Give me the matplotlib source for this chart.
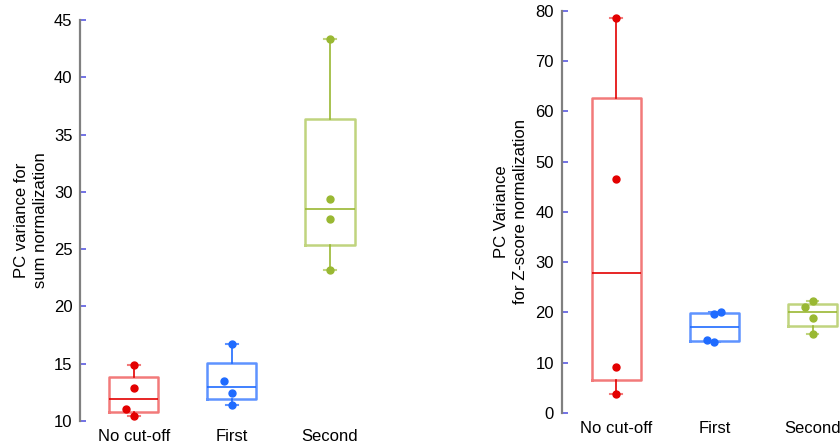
import matplotlib.pyplot as plt
import numpy as np

plt.rcParams['font.family'] = ['Liberation Sans', 'DejaVu Sans']

# カテゴリ
groups = ['No cut-off', 'First', 'Second']

# 左: sum normalization
sum_nocut = [14.9, 12.85, 11.05, 10.45]
sum_first = [16.7, 13.5, 12.47, 11.37]
sum_second = [43.3, 29.38, 27.6, 23.18]
sum_jitter = [[0, 0, -0.08, 0], [0, -0.08, 0, 0], [0, 0, 0, 0]]

# 右: Z-score normalization
z_nocut = [78.7, 46.5, 9.2, 3.65]
z_first = [20.12, 19.65, 14.54, 14.14]
z_second = [22.24, 21.05, 18.92, 15.73]
z_jitter = [[0, 0, 0, 0], [0.065, 0, -0.078, 0], [0, -0.078, 0, 0]]

line_colors = ['#e30000', '#1f6bff', '#99b832']
box_colors = ['#f27a7a', '#5e93ff', '#c0d47e']


def hinge_stats(vals):
    s = np.sort(vals)
    h = len(s) // 2
    return dict(med=np.median(s), q1=np.median(s[:h]), q3=np.median(s[h:]),
                whislo=s[0], whishi=s[-1], fliers=[])


def draw(ax, data, jitter, ylim, yticks, ylabel, xlim):
    for i, (vals, jit) in enumerate(zip(data, jitter)):
        pos = i + 1
        ax.bxp([hinge_stats(vals)], positions=[pos], widths=0.5, showfliers=False,
               capwidths=0.12,
               boxprops=dict(color=box_colors[i], lw=1.8),
               medianprops=dict(color=line_colors[i], lw=1.2),
               whiskerprops=dict(color=line_colors[i], lw=1.2),
               capprops=dict(color=box_colors[i], lw=1.5))
        ax.plot(pos + np.array(jit), vals, 'o', color=line_colors[i], ms=5, zorder=5)
    ax.set_xlim(*xlim)
    ax.set_ylim(*ylim)
    ax.set_yticks(yticks)
    ax.set_xticks([1, 2, 3])
    ax.set_xticklabels(groups, fontsize=12)
    ax.set_ylabel(ylabel, fontsize=12, linespacing=1.3)
    for sp in ['top', 'right', 'bottom']:
        ax.spines[sp].set_visible(False)
    ax.spines['left'].set_color('#808080')
    ax.spines['left'].set_linewidth(1.6)
    ax.tick_params(axis='y', direction='in', length=4, width=1.2, color='#5a5ae0',
                   pad=5.5, labelsize=12)
    ax.tick_params(axis='x', length=0, pad=6)


fig = plt.figure(figsize=(8.4, 4.47), dpi=100)
ax1 = fig.add_axes([0.0952, 0.0582, 0.356, 0.8971])
ax2 = fig.add_axes([0.6687, 0.0767, 0.3313, 0.8987])

draw(ax1, [sum_nocut, sum_first, sum_second], sum_jitter, (10, 45),
     np.arange(10, 46, 5), 'PC variance for\nsum normalization', (0.449, 3.5))
draw(ax2, [z_nocut, z_first, z_second], z_jitter, (0, 80),
     np.arange(0, 81, 10), 'PC Variance\nfor Z-score normalization', (0.443, 3.28))

ax1.yaxis.set_label_coords(-0.107, 0.5)
ax2.yaxis.set_label_coords(-0.121, 0.5)

fig.savefig('out.png', dpi=100)
